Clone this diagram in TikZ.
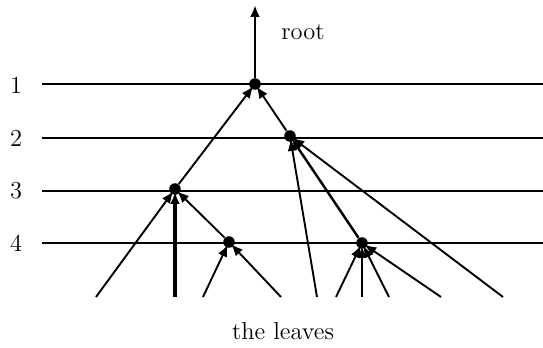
\documentclass[tikz,border=0pt]{standalone}
\usetikzlibrary{arrows.meta}
\begin{document}
\begin{tikzpicture}[x=0.45pt,y=-0.45pt,
  dot/.style={circle,fill=black,inner sep=0pt,minimum size=5.2pt},
  level/.style={line width=0.85pt},
  tip/.style={-{Latex[length=5.4pt,width=4.4pt]}},
  edge/.style={line width=0.85pt,tip,shorten >=-1.5pt},
  lbl/.style={font=\fontsize{11}{13}\selectfont}]
\useasboundingbox (0,0) rectangle (543,348);
% levels
\coordinate (l1a) at (42,84);  \coordinate (l1b) at (543,84);
\coordinate (l2a) at (42,138); \coordinate (l2b) at (543,138);
\coordinate (l3a) at (42,191); \coordinate (l3b) at (543,191);
\coordinate (l4a) at (42,243); \coordinate (l4b) at (543,243);
\draw[level,line width=1.3pt] (l1a) -- (l1b);
\draw[level] (l2a) -- (l2b);
\draw[level] (l3a) -- (l3b);
\draw[level] (l4a) -- (l4b);
\node[lbl] (n1) at (16,85) {1};
\node[lbl] (n2) at (16,138) {2};
\node[lbl] (n3) at (16,191) {3};
\node[lbl] (n4) at (16,243) {4};
% nodes
\node[dot] (r) at (255,84) {};
\node[dot] (a) at (290,136) {};
\node[dot] (b) at (175,189) {};
\node[dot] (c) at (229,242) {};
\node[dot] (d) at (362,243) {};
\coordinate (top) at (255,5);
\draw[line width=1.1pt,tip] (r) -- (top);
\node[lbl] (rootlbl) at (303,32) {root};
% leaves
\coordinate (f1) at (96,297);
\coordinate (f2) at (175,297);
\coordinate (f3) at (203,297);
\coordinate (f4) at (281,297);
\coordinate (f5) at (317,297);
\coordinate (f6) at (336,297);
\coordinate (f7) at (362,297);
\coordinate (f8) at (389,297);
\coordinate (f9) at (441,297);
\coordinate (f10) at (503,297);
\node[lbl] (leaves) at (283,331) {the leaves};
% edges
\draw[edge] (b) -- (r);
\draw[edge] (a) -- (r);
\draw[edge] (f1) -- (b);
\draw[edge,line width=1.4pt] (f2) -- (b);
\draw[edge] (c) -- (b);
\draw[edge] (f3) -- (c);
\draw[edge] (f4) -- (c);
\draw[edge] (f5) -- (a);
\draw[edge,line width=1.1pt] (d) -- (a);
\draw[edge] (f10) -- (a);
\draw[edge] (f6) -- (d);
\draw[edge,line width=1.1pt] (f7) -- (d);
\draw[edge] (f8) -- (d);
\draw[edge] (f9) -- (d);
\end{tikzpicture}
\end{document}
